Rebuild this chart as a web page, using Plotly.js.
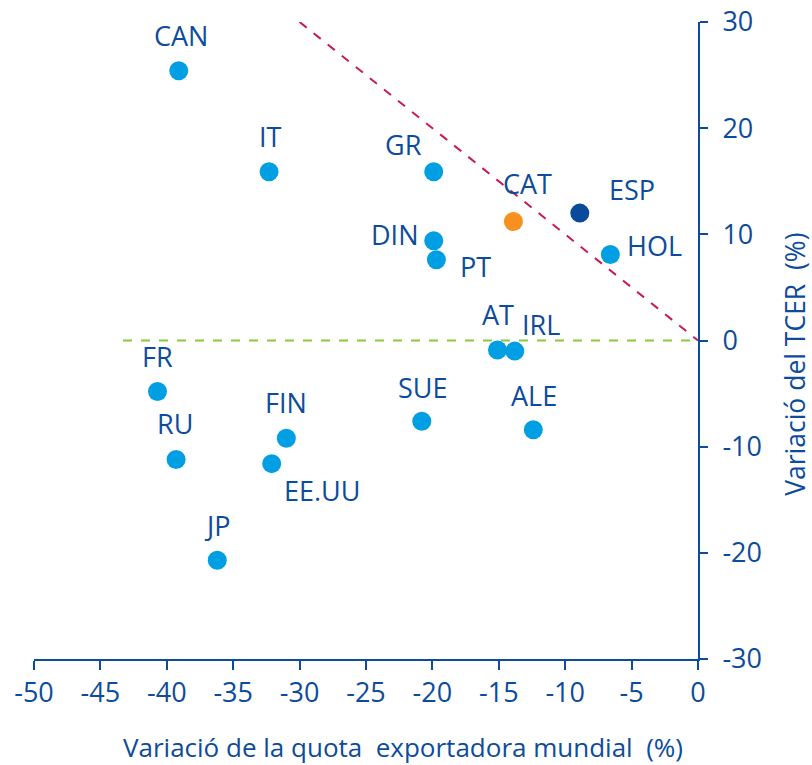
<!DOCTYPE html>
<html>
<head>
<meta charset="utf-8">
<script src="https://cdn.plot.ly/plotly-3.0.1.min.js"></script>
<style>html,body{margin:0;padding:0;background:#fff;}#chart{width:812px;height:765px;}</style>
</head>
<body>
<div id="chart"></div>
<script>
// ---- data ----
const countries = ["CAN","IT","GR","DIN","PT","CAT","ESP","HOL","AT","IRL","SUE","ALE","FR","RU","FIN","EE.UU","JP"];
const quotaChange = [-39.1,-32.3,-19.9,-19.9,-19.7,-13.9,-8.9,-6.6,-15.1,-13.8,-20.8,-12.4,-40.7,-39.3,-31.0,-32.1,-36.2];
const tcerChange  = [25.4,15.9,15.9,9.4,7.6,11.2,12.0,8.1,-0.9,-1.0,-7.6,-8.4,-4.8,-11.2,-9.2,-11.6,-20.7];
const redLineX = [-30, 0];
const redLineY = [30, 0];
const greenLineX = [-43.3, 0];
const greenLineY = [0, 0];
const xTickVals = [-50,-45,-40,-35,-30,-25,-20,-15,-10,-5,0];
const xTickText = ["-50","-45","-40","-35","-30","-25","-20","-15","-10","-5","0"];
const yTickVals = [-30,-20,-10,0,10,20,30];
const yTickText = ["-30","-20","-10","0","10","20","30"];
const xTitle = "Variació de la quota  exportadora mundial  (%)";
const yTitle = "Variació del TCER  (%)";

// ---- styles ----
const textColor = "#0D4C9C";
const lightBlue = "#009FE3";
const darkBlue = "#0A4A9C";
const orange = "#F7901E";
const specialColors = {"CAT": orange, "ESP": darkBlue};
const labelOffsets = {
  "CAN":[2,-35],"IT":[1,-35],"GR":[-30,-27],"DIN":[-39,-6],"PT":[39,7],
  "CAT":[14,-38],"ESP":[52,-24],"HOL":[44,-9],"AT":[1,-36],"IRL":[26,-27],
  "SUE":[1,-34],"ALE":[1,-34],"FR":[0,-35],"RU":[-1,-36],"FIN":[0,-36],
  "EE.UU":[50,27],"JP":[0,-35]
};
const fontFam = "Open Sans, Noto Sans, sans-serif";

const traces = [
  {x: greenLineX, y: greenLineY, mode: "lines", line: {color: "#8DC63F", width: 2, dash: "dash"}, hoverinfo: "skip"},
  {x: redLineX, y: redLineY, mode: "lines", line: {color: "#C8185A", width: 2, dash: "dash"}, hoverinfo: "skip"},
  {x: quotaChange, y: tcerChange, text: countries, mode: "markers",
   marker: {size: 19, color: countries.map(c => specialColors[c] || lightBlue)}}
];

const annotations = countries.map((c, i) => ({
  x: quotaChange[i], y: tcerChange[i], xref: "x", yref: "y",
  text: c, showarrow: false,
  xshift: labelOffsets[c][0], yshift: -labelOffsets[c][1],
  font: {family: fontFam, size: 27, color: textColor}
}));
annotations.push({
  xref: "paper", yref: "paper", x: 0.555, y: -0.1381, xanchor: "center", yanchor: "middle",
  text: xTitle, showarrow: false, borderpad: 0, font: {family: fontFam, size: 26, color: textColor}
});
annotations.push({
  xref: "paper", yref: "paper", x: 1.145, y: 0.4623, xanchor: "center", yanchor: "middle",
  text: yTitle, textangle: -90, showarrow: false, borderpad: 0, font: {family: fontFam, size: 26.5, color: textColor}
});

const layout = {
  width: 812, height: 765,
  margin: {l: 34, r: 114, t: 22, b: 106},
  paper_bgcolor: "#fff", plot_bgcolor: "#fff",
  showlegend: false,
  font: {family: fontFam, color: textColor, size: 27},
  xaxis: {
    range: [-50, 0], tickmode: "array", tickvals: xTickVals, ticktext: xTickText,
    ticks: "outside", ticklen: 9, tickwidth: 2, tickcolor: textColor,
    showline: true, linecolor: textColor, linewidth: 2,
    showgrid: false, zeroline: false,
    tickfont: {family: fontFam, size: 27, color: textColor}
  },
  yaxis: {
    range: [-30, 30], side: "right", tickmode: "array", tickvals: yTickVals, ticktext: yTickText,
    ticks: "outside", ticklen: 8, tickwidth: 2, tickcolor: textColor,
    showline: true, linecolor: textColor, linewidth: 2,
    showgrid: false, zeroline: false, ticklabelstandoff: 9,
    tickfont: {family: fontFam, size: 27, color: textColor}
  },
  annotations: annotations
};

Plotly.newPlot("chart", traces, layout, {displayModeBar: false, staticPlot: true});
</script>
</body>
</html>
